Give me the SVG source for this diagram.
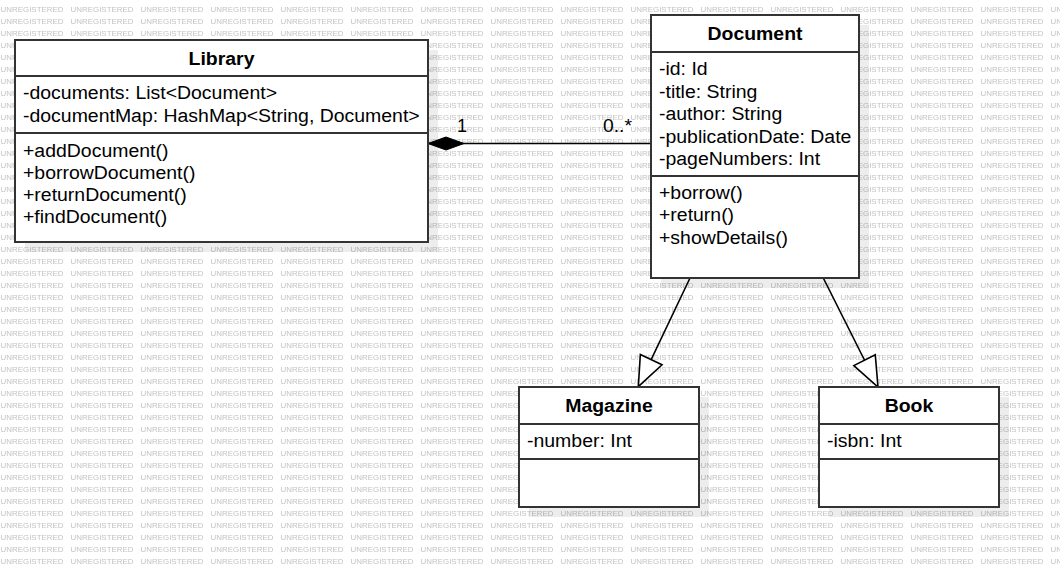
<svg xmlns="http://www.w3.org/2000/svg" width="1060" height="567" viewBox="0 0 1060 567">
<style>
.bg{fill:url(#wm)}
.wm{font-family:"Liberation Sans",Arial,sans-serif;font-size:8px;fill:#c2c2c2}
.shadow{fill:#000;fill-opacity:0.07}
.box{fill:#fff;stroke:#333;stroke-width:2}
.div{stroke:#333;stroke-width:2}
.t{font-family:"Liberation Sans",Arial,sans-serif;font-size:18px;fill:#000}
.b{font-weight:bold;text-anchor:middle}
.lbl{font-family:"Liberation Sans",Arial,sans-serif;font-size:18px;fill:#000}
.edge{stroke:#000;stroke-width:1.6;fill:none}
</style>
<defs>
<pattern id="wm" x="0" y="0" width="70" height="12" patternUnits="userSpaceOnUse">
<text class="wm" x="0.5" y="11.8" textLength="63" lengthAdjust="spacingAndGlyphs">UNREGISTERED</text>
</pattern>
<marker id="tri" markerUnits="userSpaceOnUse" markerWidth="34" markerHeight="30" viewBox="-32 -15 34 30" refX="0" refY="0" orient="auto">
<path d="M0,0 L-30,-12 L-30,12 Z" fill="#fff" stroke="#000" stroke-width="1.6"/>
</marker>
<marker id="dia" markerUnits="userSpaceOnUse" markerWidth="40" markerHeight="18" viewBox="-2 -9 40 18" refX="0" refY="0" orient="auto">
<path d="M0,0 L18,-6.5 L36,0 L18,6.5 Z" fill="#000" stroke="#000" stroke-width="1"/>
</marker>
</defs>
<rect x="0" y="0" width="1060" height="567" fill="#fff"/>
<rect x="0" y="0" width="1060" height="567" class="bg"/>

<g id="connectors">
<line class="edge" x1="428" y1="143.5" x2="651" y2="143.5" marker-start="url(#dia)"/>
<line class="edge" x1="690" y1="278" x2="638.3" y2="386.7" marker-end="url(#tri)"/>
<line class="edge" x1="823.3" y1="278" x2="878" y2="387" marker-end="url(#tri)"/>
<text class="lbl" x="462" y="131.5" text-anchor="middle">1</text>
<text class="lbl" x="603" y="132" textLength="29" lengthAdjust="spacingAndGlyphs">0..*</text>
</g>

<g id="library">
<rect class="shadow" x="25" y="50" width="413" height="202"/>
<rect class="box" x="15" y="40" width="413" height="202"/>
<line class="div" x1="15" y1="76" x2="428" y2="76"/>
<line class="div" x1="15" y1="133" x2="428" y2="133"/>
<text class="t b" x="221.5" y="64.5" textLength="66" lengthAdjust="spacingAndGlyphs">Library</text>
<text class="t" x="23" y="99.3" textLength="254" lengthAdjust="spacingAndGlyphs">-documents: List&lt;Document&gt;</text>
<text class="t" x="23" y="121.8" textLength="396.7" lengthAdjust="spacingAndGlyphs">-documentMap: HashMap&lt;String, Document&gt;</text>
<text class="t" x="23" y="156.5" textLength="145.4" lengthAdjust="spacingAndGlyphs">+addDocument()</text>
<text class="t" x="23" y="178.8" textLength="172.4" lengthAdjust="spacingAndGlyphs">+borrowDocument()</text>
<text class="t" x="23" y="201.1" textLength="163.7" lengthAdjust="spacingAndGlyphs">+returnDocument()</text>
<text class="t" x="23" y="223.4" textLength="144.3" lengthAdjust="spacingAndGlyphs">+findDocument()</text>
</g>

<g id="document">
<rect class="shadow" x="661" y="25" width="208" height="263"/>
<rect class="box" x="651" y="15" width="208" height="263"/>
<line class="div" x1="651" y1="52" x2="859" y2="52"/>
<line class="div" x1="651" y1="176" x2="859" y2="176"/>
<text class="t b" x="755" y="40" textLength="95" lengthAdjust="spacingAndGlyphs">Document</text>
<text class="t" x="659" y="75.3" textLength="48.6" lengthAdjust="spacingAndGlyphs">-id: Id</text>
<text class="t" x="659" y="97.8" textLength="98.4" lengthAdjust="spacingAndGlyphs">-title: String</text>
<text class="t" x="659" y="120.3" textLength="123.2" lengthAdjust="spacingAndGlyphs">-author: String</text>
<text class="t" x="659" y="142.8" textLength="192.4" lengthAdjust="spacingAndGlyphs">-publicationDate: Date</text>
<text class="t" x="659" y="165.3" textLength="161.1" lengthAdjust="spacingAndGlyphs">-pageNumbers: Int</text>
<text class="t" x="659" y="198.8" textLength="83.8" lengthAdjust="spacingAndGlyphs">+borrow()</text>
<text class="t" x="659" y="221.3" textLength="75.1" lengthAdjust="spacingAndGlyphs">+return()</text>
<text class="t" x="659" y="243.8" textLength="129.1" lengthAdjust="spacingAndGlyphs">+showDetails()</text>
</g>

<g id="magazine">
<rect class="shadow" x="529" y="397" width="180" height="120"/>
<rect class="box" x="519" y="387" width="180" height="120"/>
<line class="div" x1="519" y1="424" x2="699" y2="424"/>
<line class="div" x1="519" y1="459" x2="699" y2="459"/>
<text class="t b" x="609" y="412" textLength="87.5" lengthAdjust="spacingAndGlyphs">Magazine</text>
<text class="t" x="527" y="447" textLength="104.9" lengthAdjust="spacingAndGlyphs">-number: Int</text>
</g>

<g id="book">
<rect class="shadow" x="829" y="397" width="180" height="120"/>
<rect class="box" x="819" y="387" width="180" height="120"/>
<line class="div" x1="819" y1="424" x2="999" y2="424"/>
<line class="div" x1="819" y1="459" x2="999" y2="459"/>
<text class="t b" x="909" y="412" textLength="48.6" lengthAdjust="spacingAndGlyphs">Book</text>
<text class="t" x="827" y="447" textLength="74.6" lengthAdjust="spacingAndGlyphs">-isbn: Int</text>
</g>
</svg>
